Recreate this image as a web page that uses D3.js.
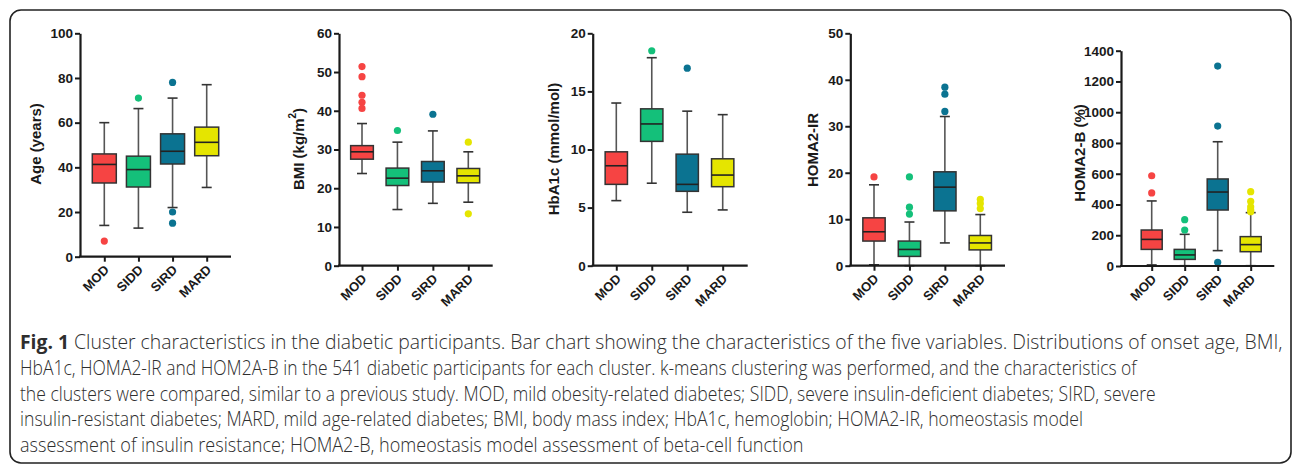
<!DOCTYPE html>
<html><head><meta charset="utf-8">
<script src="https://cdn.jsdelivr.net/npm/d3@7"></script>
<style>body{margin:0;background:#fff} svg{display:block}</style>
</head><body>
<svg id="c" width="1295" height="475"></svg>
<script>
const clusters = ["MOD", "SIDD", "SIRD", "MARD"];
const colors = ["#f64443", "#14c07a", "#0b7391", "#e5e500"];

// each row: [lower whisker, Q1, median, Q3, upper whisker]
const ageStats = [[14, 33, 41.3, 46, 60], [12.8, 31.2, 39, 45, 66.3], [22, 41.5, 47.2, 55, 71], [31, 45.2, 51.2, 58, 77]];
const ageOutliers = [[7], [71], [78, 20, 15], []];
const ageTicks = [0, 20, 40, 60, 80, 100];

const bmiStats = [[23.8, 27.5, 29.4, 31.0, 36.7], [14.5, 20.7, 22.6, 25.2, 31.9], [16.1, 21.6, 24.5, 26.9, 34.8], [16.4, 21.4, 23.2, 25.1, 29.4]];
const bmiOutliers = [[51.4, 48.8, 44.0, 42.2, 40.6], [34.9], [39.1], [31.9, 13.4]];
const bmiTicks = [0, 10, 20, 30, 40, 50, 60];

const hba1cStats = [[5.6, 7.0, 8.6, 9.8, 14.0], [7.1, 10.7, 12.2, 13.5, 17.9], [4.6, 6.4, 7.0, 9.6, 13.3], [4.8, 6.8, 7.8, 9.2, 13.0]];
const hba1cOutliers = [[], [18.5], [17.0], []];
const hba1cTicks = [0, 5, 10, 15, 20];

const irStats = [[0.2, 5.3, 7.3, 10.3, 17.4], [0, 2.0, 3.5, 5.3, 9.4], [4.9, 11.8, 16.9, 20.2, 32.1], [0, 3.4, 4.9, 6.5, 11.0]];
const irOutliers = [[19.1], [19.1, 12.6, 11.1], [38.4, 36.9, 33.2], [14.3, 13.4, 12.3]];
const irTicks = [0, 10, 20, 30, 40, 50];

const bStats = [[7, 108, 173, 234, 423], [2, 43, 72, 108, 206], [100, 364, 481, 566, 808], [2, 93, 139, 191, 347]];
const bOutliers = [[587, 475], [301, 234], [1300, 910, 24], [483, 420, 385, 365, 353]];
const bTicks = [0, 200, 400, 600, 800, 1000, 1200, 1400];

const captionLines = [
  ["Fig. 1", " Cluster characteristics in the diabetic participants. Bar chart showing the characteristics of the five variables. Distributions of onset age, BMI,"],
  ["", "HbA1c, HOMA2-IR and HOM2A-B in the 541 diabetic participants for each cluster. k-means clustering was performed, and the characteristics of"],
  ["", "the clusters were compared, similar to a previous study. MOD, mild obesity-related diabetes; SIDD, severe insulin-deficient diabetes; SIRD, severe"],
  ["", "insulin-resistant diabetes; MARD, mild age-related diabetes; BMI, body mass index; HbA1c, hemoglobin; HOMA2-IR, homeostasis model"],
  ["", "assessment of insulin resistance; HOMA2-B, homeostasis model assessment of beta-cell function"]
];
const captionWidths = [1263, 1118, 1136, 1063, 784];

const panels = [
  {stats: ageStats, outliers: ageOutliers, ticks: ageTicks, label: ["Age (years)"], ax: 80, ae: 231, top: 33.3, bot: 256.7, p0: 104.3, p1: 206.7, bw: 24, lx: 35, ly: 144},
  {stats: bmiStats, outliers: bmiOutliers, ticks: bmiTicks, label: ["BMI (kg/m", "2", ")"], ax: 339, ae: 492.7, top: 33.3, bot: 265.7, p0: 362, p1: 468.3, bw: 22.7, lx: 298, ly: 149},
  {stats: hba1cStats, outliers: hba1cOutliers, ticks: hba1cTicks, label: ["HbA1c (mmol/mol)"], ax: 592.7, ae: 747.7, top: 33.3, bot: 265.7, p0: 616.3, p1: 722.7, bw: 22.3, lx: 553, ly: 149},
  {stats: irStats, outliers: irOutliers, ticks: irTicks, label: ["HOMA2-IR"], ax: 850.3, ae: 1005, top: 33.3, bot: 265.7, p0: 874, p1: 980.3, bw: 22.3, lx: 811.7, ly: 150},
  {stats: bStats, outliers: bOutliers, ticks: bTicks, label: ["HOMA2-B (%)"], ax: 1121, ae: 1274.3, top: 50.7, bot: 266, p0: 1151.7, p1: 1250.7, bw: 21, lx: 1079, ly: 153}
];

const svg = d3.select("#c");
const FONT = "'Liberation Sans', Arial, Helvetica, sans-serif";
const INK = "#1a1a1a";

svg.append("rect").attr("x", 10).attr("y", 10).attr("width", 1281).attr("height", 453)
  .attr("rx", 11).attr("fill", "none").attr("stroke", "#222").attr("stroke-width", 1.6);

panels.forEach(p => {
  const g = svg.append("g");
  const y = d3.scaleLinear().domain([0, d3.max(p.ticks)]).range([p.bot, p.top]);
  const x = d3.scalePoint().domain(clusters).range([p.p0, p.p1]);

  clusters.forEach((c, i) => {
    const [lo, q1, med, q3, hi] = p.stats[i];
    const cx = x(c), hw = p.bw / 2, cap = 5;
    const bg = g.append("g");
    const wc = "#555";
    bg.append("line").attr("x1", cx).attr("x2", cx).attr("y1", y(hi)).attr("y2", y(q3)).attr("stroke", wc).attr("stroke-width", 1.6);
    bg.append("line").attr("x1", cx).attr("x2", cx).attr("y1", y(q1)).attr("y2", y(lo)).attr("stroke", wc).attr("stroke-width", 1.6);
    bg.append("line").attr("x1", cx - cap).attr("x2", cx + cap).attr("y1", y(hi)).attr("y2", y(hi)).attr("stroke", "#333").attr("stroke-width", 1.6);
    bg.append("line").attr("x1", cx - cap).attr("x2", cx + cap).attr("y1", y(lo)).attr("y2", y(lo)).attr("stroke", "#333").attr("stroke-width", 1.6);
    bg.append("rect").attr("x", cx - hw).attr("y", y(q3)).attr("width", p.bw).attr("height", y(q1) - y(q3))
      .attr("fill", colors[i]).attr("stroke", "#333").attr("stroke-width", 1.5);
    bg.append("line").attr("x1", cx - hw).attr("x2", cx + hw).attr("y1", y(med)).attr("y2", y(med)).attr("stroke", "#222").attr("stroke-width", 1.6);
    bg.selectAll("circle").data(p.outliers[i]).join("circle")
      .attr("cx", cx).attr("cy", d => y(d)).attr("r", 3.6).attr("fill", colors[i]);
  });

  const ya = g.append("g").attr("transform", `translate(${p.ax},0)`)
    .call(d3.axisLeft(y).tickValues(p.ticks).tickSize(5).tickSizeOuter(0).tickPadding(2).tickFormat(d3.format("d")));
  ya.select(".domain").attr("stroke", INK).attr("stroke-width", 2.2);
  ya.selectAll(".tick line").attr("stroke", INK).attr("stroke-width", 2);
  ya.selectAll(".tick text").attr("font-family", FONT).attr("font-weight", "bold").attr("font-size", 13.5).attr("fill", INK);

  const xa = g.append("g").attr("transform", `translate(0,${p.bot})`)
    .call(d3.axisBottom(x).tickSize(5).tickSizeOuter(0).tickPadding(2));
  xa.select(".domain").remove();
  xa.append("line").attr("x1", p.ax - 1).attr("x2", p.ae).attr("y1", 0).attr("y2", 0).attr("stroke", INK).attr("stroke-width", 2.2);
  xa.selectAll(".tick line").attr("stroke", INK).attr("stroke-width", 2);
  xa.selectAll(".tick text").attr("font-family", FONT).attr("font-weight", "bold").attr("font-size", 13).attr("fill", INK)
    .attr("text-anchor", "end").attr("dy", null).attr("y", 0)
    .attr("transform", "translate(5,14) rotate(-45)");

  const t = g.append("text").attr("transform", `translate(${p.lx},${p.ly}) rotate(-90)`)
    .attr("text-anchor", "middle").attr("dominant-baseline", "central")
    .attr("font-family", FONT).attr("font-weight", "bold").attr("font-size", 15).attr("fill", INK);
  t.append("tspan").text(p.label[0]);
  if (p.label.length > 1) {
    t.append("tspan").attr("font-size", 10).attr("dy", -6).text(p.label[1]);
    t.append("tspan").attr("dy", 6).text(p.label[2]);
  }
});

const cap = svg.append("g");
captionLines.forEach((ln, i) => {
  const baseY = 349 + i * 25.75;
  const t = cap.append("text").attr("x", 0).attr("y", 0)
    .attr("font-family", "'Open Sans', 'Noto Sans', sans-serif").attr("font-size", 19.5)
    .attr("font-weight", 300).attr("fill", "#2e2e2e");
  if (ln[0]) t.append("tspan").attr("font-weight", "bold").text(ln[0]);
  t.append("tspan").text(ln[1]);
  const w = t.node().getBBox().width;
  t.attr("transform", `translate(20,${baseY}) scale(${captionWidths[i] / w},1)`);
});
</script>
</body></html>
